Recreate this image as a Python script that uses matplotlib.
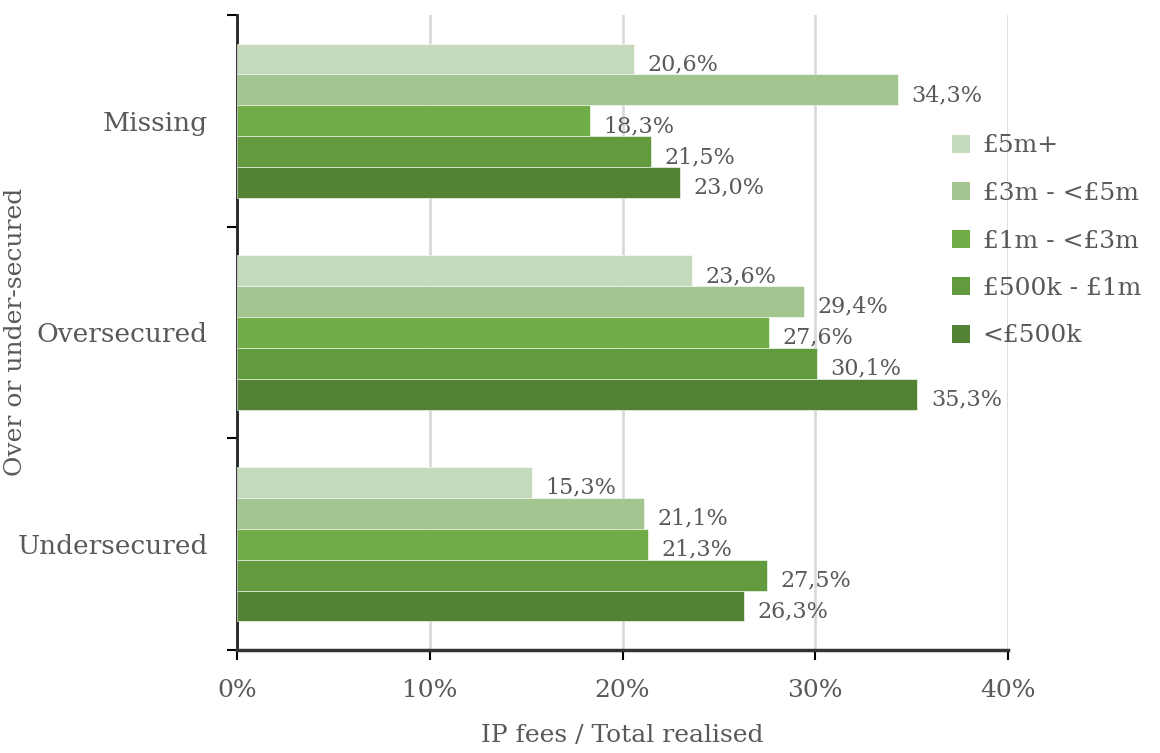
import matplotlib
matplotlib.use("Agg")
import matplotlib.pyplot as plt
import numpy as np
from matplotlib.patches import Patch

categories = ["Missing", "Oversecured", "Undersecured"]
series_names = ["£5m+", "£3m - <£5m", "£1m - <£3m", "£500k - £1m", "<£500k"]
values = {
    "£5m+":        [20.6, 23.6, 15.3],
    "£3m - <£5m":  [34.3, 29.4, 21.1],
    "£1m - <£3m":  [18.3, 27.6, 21.3],
    "£500k - £1m": [21.5, 30.1, 27.5],
    "<£500k":      [23.0, 35.3, 26.3],
}
colors = ["#C5D9BC", "#A3C590", "#70AD47", "#629A3E", "#548235"]
x_ticks = [0, 10, 20, 30, 40]

text_color = "#595959"
plt.rcParams["font.family"] = ["DejaVu Serif"]

fig = plt.figure(figsize=(11.6, 7.53), dpi=100)
ax = fig.add_axes([237 / 1160, 103 / 753, (1008 - 237) / 1160, (650 - 15) / 753])

n = len(series_names)
group_h = 0.73
bar_h = group_h / n
centers = np.arange(len(categories)) + 0.5

for i, name in enumerate(series_names):
    ys = centers - group_h / 2 + bar_h * (i + 0.5)
    vals = values[name]
    ax.barh(ys, vals, height=bar_h, color=colors[i], edgecolor="white",
            linewidth=0.4, zorder=3)
    for y, v in zip(ys, vals):
        ax.text(v + 0.7, y + 0.025, f"{v:.1f}%".replace(".", ","),
                va="center", ha="left", fontsize=16, color=text_color, zorder=4)

ax.set_ylim(3, 0)
ax.set_xlim(0, 40)
ax.set_xticks(x_ticks)
ax.set_xticklabels([f"{t}%" for t in x_ticks], fontsize=18, color=text_color)
ax.set_yticks([0, 1, 2, 3])
ax.set_yticklabels([])
ax.set_yticks(centers, minor=True)
ax.set_yticklabels(categories, minor=True, fontsize=19, color=text_color)
ax.tick_params(axis="y", which="minor", length=0, pad=21)
ax.tick_params(axis="y", which="major", length=7, width=1.5, direction="out")
ax.tick_params(axis="x", length=7, width=1.5, direction="out", pad=14)

ax.grid(axis="x", color="#D9D9D9", linewidth=2, zorder=0)
for side in ["top", "right"]:
    ax.spines[side].set_visible(False)
ax.spines["left"].set_linewidth(2)
ax.spines["left"].set_color("#222222")
ax.spines["bottom"].set_linewidth(2.5)
ax.spines["bottom"].set_color("#333333")

ax.set_xlabel("IP fees / Total realised", fontsize=18, color=text_color, labelpad=16)
fig.text(16 / 1160, 1 - 332 / 753, "Over or under-secured", rotation=90,
         ha="center", va="center", fontsize=18, color=text_color)

handles = [Patch(facecolor=c, edgecolor="none") for c in colors]
leg = fig.legend(handles, series_names, loc="upper left",
                 bbox_to_anchor=(929 / 1160, 1 - 112 / 753), frameon=False,
                 fontsize=18, labelcolor=text_color, handlelength=0.75,
                 handleheight=0.75, handletextpad=0.5, labelspacing=0.98)

fig.savefig("out.png", dpi=100, facecolor="white")
